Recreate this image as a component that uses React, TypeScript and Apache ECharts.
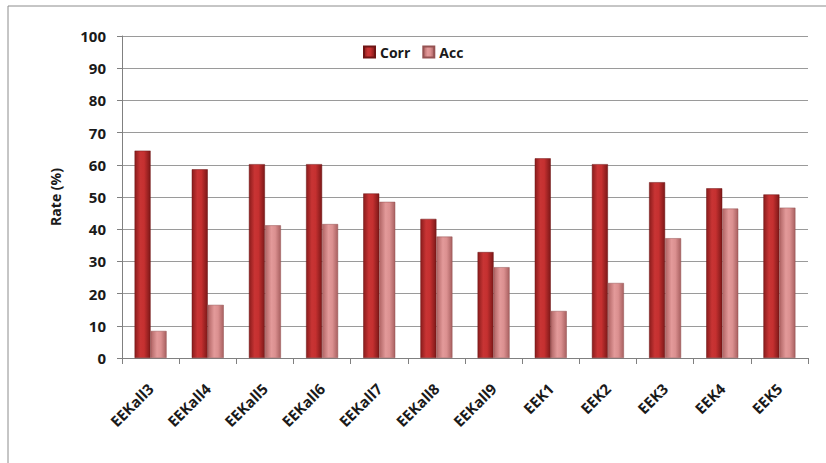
import React, { useEffect, useRef } from "react";
import * as echarts from "echarts";

const categories = ["EEKall3", "EEKall4", "EEKall5", "EEKall6", "EEKall7", "EEKall8", "EEKall9", "EEK1", "EEK2", "EEK3", "EEK4", "EEK5"];
const corrValues = [64.4, 58.6, 60.2, 60.2, 51.1, 43.2, 32.9, 62.0, 60.2, 54.6, 52.7, 50.8];
const accValues = [8.4, 16.5, 41.2, 41.6, 48.5, 37.7, 28.2, 14.6, 23.3, 37.2, 46.4, 46.7];
const yTicks = { min: 0, max: 100, interval: 10 };

const corrGrad = new echarts.graphic.LinearGradient(0, 0, 1, 0, [
  { offset: 0, color: "#8a1c1c" },
  { offset: 0.35, color: "#c83434" },
  { offset: 0.6, color: "#c53030" },
  { offset: 1, color: "#7d1818" },
]);
const accGrad = new echarts.graphic.LinearGradient(0, 0, 1, 0, [
  { offset: 0, color: "#b06464" },
  { offset: 0.4, color: "#e39a9a" },
  { offset: 0.65, color: "#db9090" },
  { offset: 1, color: "#a86060" },
]);

export default function App() {
  const ref = useRef<HTMLDivElement>(null);
  useEffect(() => {
    if (!ref.current) return;
    const chart = echarts.init(ref.current, null, { renderer: "svg" });
    const font = "'Open Sans', 'Liberation Sans', sans-serif";
    chart.setOption({
      animation: false,
      backgroundColor: "#ffffff",
      textStyle: { fontFamily: font },
      graphic: [
        {
          type: "rect",
          shape: { x: 8, y: 6, width: 900, height: 600 },
          style: { fill: "none", stroke: "#8c8c8c", lineWidth: 1 },
          silent: true,
        },
      ],
      legend: {
        left: 358,
        top: 40,
        itemWidth: 11,
        itemHeight: 11,
        itemGap: 12,
        icon: "rect",
        textStyle: { fontSize: 14, fontWeight: "bold", color: "#1a1a1a", fontFamily: font },
        data: ["Corr", "Acc"],
      },
      grid: { left: 122, right: 18, top: 36, bottom: 105, containLabel: false },
      xAxis: {
        type: "category",
        data: categories,
        axisLine: { lineStyle: { color: "#808080" } },
        axisTick: { show: true, length: 6, lineStyle: { color: "#808080" } },
        axisLabel: {
          rotate: 45,
          fontSize: 15,
          fontWeight: "bold",
          color: "#1a1a1a",
          margin: 28,
          interval: 0,
          fontFamily: font,
        },
      },
      yAxis: {
        type: "value",
        min: yTicks.min,
        max: yTicks.max,
        interval: yTicks.interval,
        name: "Rate (%)",
        nameLocation: "middle",
        nameGap: 60,
        nameRotate: 90,
        nameTextStyle: { fontSize: 14, fontWeight: "bold", color: "#1a1a1a", fontFamily: font },
        axisLine: { show: true, lineStyle: { color: "#808080" } },
        axisTick: { show: true, length: 5, lineStyle: { color: "#808080" } },
        axisLabel: { fontSize: 15, fontWeight: "bold", color: "#1a1a1a", margin: 16, fontFamily: font },
        splitLine: { lineStyle: { color: "#9a9a9a", width: 1 } },
      },
      series: [
        {
          name: "Corr",
          type: "bar",
          data: corrValues,
          barWidth: 16,
          barGap: "0%",
          itemStyle: { color: corrGrad, borderColor: "#6e1414", borderWidth: 0.5 },
        },
        {
          name: "Acc",
          type: "bar",
          data: accValues,
          barWidth: 16,
          barGap: "0%",
          itemStyle: { color: accGrad, borderColor: "#955252", borderWidth: 0.5 },
        },
      ],
    });
    return () => chart.dispose();
  }, []);
  return (
    <div
      ref={ref}
      style={{ position: "fixed", left: 0, top: 0, width: 826, height: 463 }}
    />
  );
}
